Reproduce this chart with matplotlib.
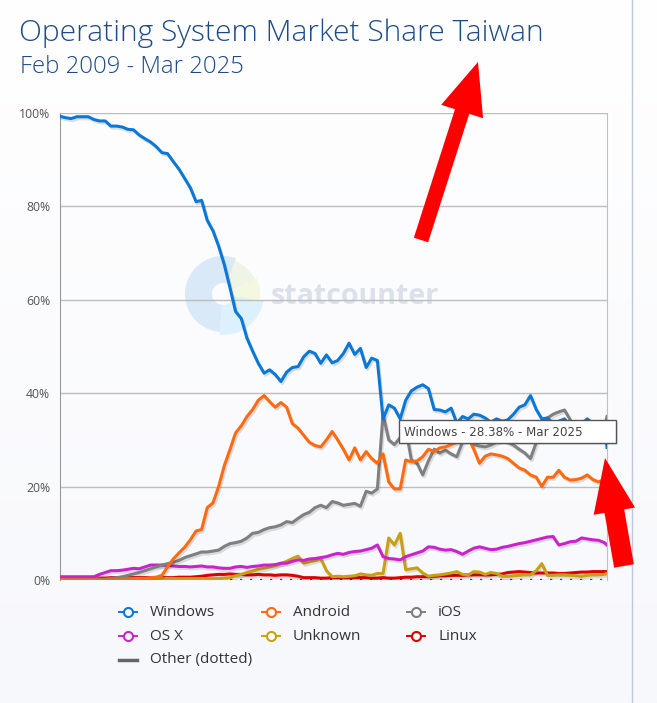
import numpy as np
import pandas as pd
import matplotlib
matplotlib.use("Agg")
import matplotlib.pyplot as plt
import matplotlib.patheffects as pe
from matplotlib.patches import Wedge, FancyArrow, Rectangle
from matplotlib.lines import Line2D

plt.rcParams['font.family'] = ['Open Sans', 'DejaVu Sans']

# ---- data (% share, every second month Feb 2009 .. Feb 2025, then Mar 2025) ----
months = pd.date_range("2009-02-01", periods=97, freq="2MS").append(pd.DatetimeIndex(["2025-03-01"]))

windows = [99.3, 99.0, 98.8, 99.2, 99.2, 99.2, 98.6, 98.3, 98.3, 97.2,
           97.2, 97.0, 96.5, 96.4, 95.3, 94.5, 93.8, 92.8, 91.5, 91.3,
           89.6, 88.0, 86.0, 84.0, 81.0, 81.3, 77.0, 74.8, 71.5, 67.5,
           62.5, 57.5, 56.0, 51.8, 49.0, 46.4, 44.3, 45.0, 44.0, 42.5,
           44.5, 45.5, 45.7, 47.8, 49.0, 48.5, 46.4, 48.2, 46.5, 47.0,
           48.5, 50.7, 48.3, 49.6, 45.5, 47.5, 47.0, 34.5, 37.5, 36.8,
           34.5, 38.5, 40.5, 41.3, 41.8, 41.0, 36.5, 36.4, 36.0, 36.8,
           33.6, 35.0, 34.5, 35.5, 35.3, 34.7, 33.8, 34.5, 34.0, 34.3,
           35.5, 37.0, 37.5, 39.5, 36.5, 34.5, 34.7, 33.5, 34.0, 34.5,
           33.0, 33.5, 33.5, 34.5, 33.5, 33.0, 33.5, 28.38]
android = [0, 0, 0, 0, 0, 0, 0, 0, 0, 0,
           0, 0, 0, 0.1, 0.2, 0.3, 0.5, 0.6, 1.0, 2.8,
           4.5, 5.8, 7.0, 8.6, 10.5, 10.8, 15.5, 16.5, 20.0, 24.5,
           28.0, 31.5, 33.0, 35.0, 36.5, 38.5, 39.5, 38.2, 37.0, 38.0,
           37.0, 33.5, 32.5, 31.0, 29.5, 28.8, 28.5, 30.0, 31.8, 30.0,
           28.0, 25.7, 28.3, 25.7, 27.5, 26.0, 25.0, 27.0, 21.0, 19.5,
           19.5, 25.7, 25.3, 25.5, 26.4, 28.0, 27.5, 28.3, 28.5, 29.0,
           29.5, 30.0, 30.5, 28.0, 25.0, 26.5, 27.0, 26.8, 26.5, 26.0,
           25.0, 24.0, 23.5, 22.5, 22.0, 20.0, 22.0, 22.0, 23.5, 22.0,
           21.4, 21.5, 21.8, 22.5, 21.5, 21.0, 21.5, 20.5]
ios = [0, 0, 0, 0, 0, 0, 0, 0.1, 0.2, 0.3,
       0.5, 0.7, 1.0, 1.3, 1.6, 2.0, 2.4, 2.8, 3.2, 3.5,
       3.8, 4.2, 4.8, 5.2, 5.6, 6.0, 6.0, 6.2, 6.4, 7.2,
       7.8, 8.0, 8.3, 9.0, 10.0, 10.2, 10.8, 11.2, 11.4, 11.8,
       12.5, 12.3, 13.2, 14.0, 14.5, 15.5, 16.0, 15.5, 16.8, 16.5,
       16.0, 16.2, 16.4, 15.8, 19.0, 18.6, 19.5, 35.5, 30.0, 29.0,
       30.5, 32.5, 25.7, 25.0, 22.5, 25.5, 28.0, 27.2, 27.8, 27.0,
       26.4, 29.5, 30.0, 29.0, 28.7, 28.5, 28.9, 29.5, 30.0, 29.5,
       28.9, 28.0, 27.2, 26.0, 29.5, 32.0, 34.7, 35.5, 36.0, 36.4,
       34.3, 32.0, 31.5, 32.0, 31.0, 32.0, 32.5, 35.0]
osx = [0.7, 0.7, 0.7, 0.7, 0.7, 0.7, 0.7, 1.2, 1.6, 2.0,
       2.0, 2.1, 2.3, 2.5, 2.4, 2.8, 3.2, 3.2, 3.2, 3.1,
       3.0, 2.9, 2.9, 2.8, 2.9, 3.0, 2.8, 2.8, 2.6, 2.5,
       2.5, 2.8, 2.9, 2.7, 2.9, 3.0, 3.2, 3.2, 3.3, 3.6,
       3.6, 4.0, 4.3, 4.2, 4.5, 4.6, 4.8, 5.0, 5.4, 5.7,
       5.5, 5.9, 6.1, 6.2, 6.5, 6.8, 7.5, 5.0, 4.6, 4.5,
       4.3, 5.0, 5.4, 5.8, 6.2, 7.1, 7.0, 6.6, 6.4, 6.5,
       6.1, 5.5, 6.2, 6.8, 7.1, 6.8, 6.5, 6.6, 7.0, 7.2,
       7.5, 7.8, 8.0, 8.3, 8.6, 8.9, 9.2, 9.3, 7.5, 7.8,
       8.2, 8.3, 9.0, 8.8, 8.6, 8.5, 8.0, 7.5]
unknown = [0.5, 0.5, 0.5, 0.5, 0.5, 0.4, 0.3, 0.2, 0.0, 0.2,
           0.3, 0.3, 0.3, 0.3, 0.3, 0.3, 0.3, 0.3, 0.3, 0.3,
           0.3, 0.3, 0.3, 0.3, 0.3, 0.3, 0.3, 0.3, 0.3, 0.4,
           0.5, 0.9, 1.2, 1.6, 1.9, 2.3, 2.5, 2.8, 3.1, 3.5,
           4.0, 4.6, 5.1, 3.6, 3.9, 4.2, 4.6, 2.0, 0.7, 0.8,
           0.7, 0.8, 0.9, 1.3, 1.1, 1.0, 1.4, 1.4, 9.0, 7.5,
           10.0, 2.2, 2.4, 2.6, 1.5, 0.8, 1.0, 1.1, 1.3, 1.5,
           1.8, 1.2, 1.1, 1.8, 1.7, 1.2, 1.6, 1.4, 0.8, 0.8,
           0.9, 1.0, 1.1, 1.1, 2.0, 3.5, 1.0, 1.0, 1.1, 1.1,
           1.0, 0.9, 0.8, 1.0, 1.1, 1.1, 1.2, 1.4]
linux = [0.5, 0.5, 0.5, 0.5, 0.5, 0.5, 0.5, 0.4, 0.4, 0.5,
         0.5, 0.5, 0.5, 0.5, 0.5, 0.5, 0.5, 0.5, 0.5, 0.5,
         0.5, 0.6, 0.6, 0.6, 0.7, 0.8, 1.0, 1.1, 1.2, 1.2,
         1.3, 1.2, 1.2, 1.1, 1.1, 1.2, 1.1, 1.1, 1.0, 1.1,
         1.1, 1.0, 0.8, 0.5, 0.5, 0.5, 0.4, 0.4, 0.5, 0.5,
         0.5, 0.5, 0.5, 0.5, 0.5, 0.4, 0.4, 0.5, 0.4, 0.4,
         0.5, 0.6, 0.6, 0.7, 0.7, 0.7, 0.8, 0.9, 0.9, 1.0,
         1.0, 1.0, 1.1, 1.1, 1.1, 1.1, 1.1, 1.2, 1.3, 1.6,
         1.7, 1.8, 1.7, 1.6, 1.5, 1.5, 1.5, 1.5, 1.4, 1.4,
         1.5, 1.6, 1.7, 1.7, 1.8, 1.8, 1.8, 1.8]
other = [0.1, 0.1, 0.1, 0.1, 0.1, 0.1, 0.1, 0.1, 0.1, 0.1,
         0.1, 0.1, 0.1, 0.1, 0.1, 0.1, 0.1, 0.1, 0.1, 0.1,
         0.1, 0.1, 0.1, 0.1, 0.1, 0.1, 0.1, 0.1, 0.1, 0.1,
         0.1, 0.1, 0.1, 0.1, 0.1, 0.1, 0.1, 0.1, 0.1, 0.1,
         0.1, 0.1, 0.1, 0.1, 0.1, 0.1, 0.1, 0.1, 0.1, 0.1,
         0.1, 0.1, 0.1, 0.1, 0.1, 0.1, 0.1, 0.1, 0.1, 0.1,
         0.1, 0.1, 0.1, 0.1, 0.1, 0.1, 0.1, 0.1, 0.1, 0.1,
         0.1, 0.1, 0.1, 0.1, 0.1, 0.1, 0.1, 0.1, 0.1, 0.1,
         0.1, 0.1, 0.1, 0.1, 0.1, 0.1, 0.1, 0.1, 0.1, 0.1,
         0.1, 0.1, 0.1, 0.1, 0.1, 0.1, 0.1, 0.1]

names = ["Windows", "Android", "iOS", "OS X", "Unknown", "Linux"]
series = [windows, android, ios, osx, unknown, linux]
colors = ["#0a78d6", "#ff6a10", "#7f7f7f", "#cc22cc", "#c9a014", "#dd0000"]
yticks = [0, 20, 40, 60, 80, 100]

W, H = 657, 703
fig = plt.figure(figsize=(W / 100, H / 100), dpi=100)

# background gradient + watermark, in pixel coords
bg = fig.add_axes([0, 0, 1, 1], zorder=-10)
grad = np.linspace(0, 1, 256)[:, None]
bg.imshow(grad, extent=[0, W, H, 0], aspect='auto',
          cmap=matplotlib.colors.LinearSegmentedColormap.from_list("g", ["#ffffff", "#f7f8fc"]))
bg.set_xlim(0, W)
bg.set_ylim(H, 0)
bg.axis('off')
cx, cy = 223, 294
bg.add_patch(Wedge((cx, cy), 38, 95, 290, width=27, facecolor="#d9e9f7", edgecolor='none'))
bg.add_patch(Wedge((cx, cy), 41, 10, 95, width=30, facecolor="#dcf1fb", edgecolor='none'))
bg.add_patch(Wedge((cx, cy), 37, -25, 10, width=26, facecolor="#f4f8de", edgecolor='none'))
bg.add_patch(Wedge((cx, cy), 35, -70, -25, width=24, facecolor="#eef4e6", edgecolor='none'))
bg.text(271, 297, "statcounter", fontsize=20.5, fontweight='bold', color="#dbe0eb", va='center', ha='left')
bg.plot([632, 632], [0, H], color="#b9c9e2", lw=1)

# main chart
ax = fig.add_axes([60 / W, 1 - 580 / H, (607 - 60) / W, (580 - 113) / H])
ax.set_facecolor('none')
shadow = [pe.SimpleLineShadow(offset=(1, -1.5), alpha=0.12, shadow_color='black'), pe.Normal()]

ax.plot(months, other, color="#444444", lw=1.6, linestyle=(0, (1, 3.5)), zorder=2)
for name, vals, col in reversed(list(zip(names, series, colors))):
    ax.plot(months, vals, color=col, lw=2.2, solid_joinstyle='round', path_effects=shadow, zorder=3)

ax.set_xlim(months[0], months[-1])
ax.set_ylim(0, 100)
ax.set_yticks(yticks)
ax.set_yticklabels([f"{v}%" for v in yticks], fontsize=8.8, color="#555555")
ax.tick_params(axis='y', length=0, pad=7)
ax.set_xticks([])
ax.grid(axis='y', color="#bdbdbd", lw=1)
for s in ['top', 'bottom']:
    ax.spines[s].set_visible(False)
ax.spines['left'].set_color("#999999")
ax.spines['right'].set_color("#c0c0c0")

# overlay: titles, tooltip, arrows, legend (pixel coords)
ov = fig.add_axes([0, 0, 1, 1], zorder=10)
ov.set_xlim(0, W)
ov.set_ylim(H, 0)
ov.axis('off')
ov.patch.set_visible(False)

ov.text(19, 33, "Operating System Market Share Taiwan", fontsize=21.6, fontweight='light',
        color="#1e4b87", va='center', ha='left')
ov.text(20, 67, "Feb 2009 - Mar 2025", fontsize=17.2, fontweight='light',
        color="#1e4b87", va='center', ha='left')

ov.add_patch(Rectangle((401, 422), 217, 23, facecolor='black', alpha=0.08, edgecolor='none'))
ov.add_patch(Rectangle((399, 420), 217, 23, facecolor='white', edgecolor='#555555', lw=1))
ov.text(404, 432, "Windows - 28.38% - Mar 2025", fontsize=8.6, color="#444444", va='center', ha='left',
        family='DejaVu Sans')

ov.add_patch(FancyArrow(421, 240, 57, -178, width=15, head_width=44, head_length=52,
                        length_includes_head=True, color='#ff0000', lw=0))
ov.add_patch(FancyArrow(624, 566, -19, -108, width=20, head_width=42, head_length=54,
                        length_includes_head=True, color='#ff0000', lw=0))

# legend, row-major like the original
leg_cols = [128, 271, 416]
leg_rows = [612, 636, 660]
for i, (name, col) in enumerate(zip(names, colors)):
    lx, ly = leg_cols[i % 3], leg_rows[i // 3]
    ov.add_line(Line2D([lx - 9, lx + 9], [ly, ly], color=col, lw=1.4))
    ov.add_line(Line2D([lx], [ly], marker='o', markersize=6.5, markerfacecolor='white',
                       markeredgecolor=col, markeredgewidth=1.5))
    ov.text(lx + 22, ly, name, fontsize=11, color="#333333", va='center', ha='left')
lx, ly = leg_cols[0], leg_rows[2]
ov.add_line(Line2D([lx - 9, lx + 9], [ly, ly], color="#666666", lw=2.5))
ov.text(lx + 22, ly, "Other (dotted)", fontsize=11, color="#333333", va='center', ha='left')

fig.savefig("out.png", dpi=100)
